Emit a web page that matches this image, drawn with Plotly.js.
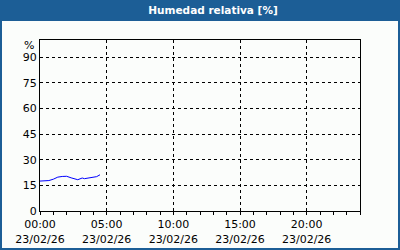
<!DOCTYPE html>
<html><head><meta charset="utf-8">
<script src="https://cdn.plot.ly/plotly-3.0.1.min.js"></script>
<style>html,body{margin:0;padding:0;background:#fff;}#c{width:400px;height:250px;}</style>
</head><body><div id="c"></div>
<script>
const times = ["2026-02-23 00:00","2026-02-23 00:20","2026-02-23 00:40","2026-02-23 01:00","2026-02-23 01:20","2026-02-23 01:40","2026-02-23 02:00","2026-02-23 02:20","2026-02-23 02:40","2026-02-23 02:50","2026-02-23 03:00","2026-02-23 03:10","2026-02-23 03:20","2026-02-23 03:40","2026-02-23 04:00","2026-02-23 04:15","2026-02-23 04:30"];
const humidity = [17.5,17.6,17.8,18.6,19.8,20.2,20.3,19.4,18.8,18.3,18.8,19.3,18.9,19.3,19.8,20.1,21.2];
const yTicks = [0,15,30,45,60,75,90];
const titleText = "Humedad relativa [%]";
const unitLabel = "%";

const W=400,H=250,L=40,R=40,T=40,B=39;
const pw=W-L-R, ph=H-T-B;
const px=v=>(v-L)/pw, py=v=>(H-B-v)/ph;
const border="#1c5e96", inner="#fbfdfb";

const trace={x:times,y:humidity,type:"scatter",mode:"lines",line:{color:"#0000ff",width:1},hoverinfo:"skip"};
const layout={
  width:W,height:H,margin:{l:L,r:R,t:T,b:B},
  paper_bgcolor:border,plot_bgcolor:inner,showlegend:false,
  font:{family:"DejaVu Sans, Verdana, sans-serif",size:11,color:"#000"},
  title:{text:"<b>"+titleText+"</b>",xref:"container",yref:"container",x:213/W,xanchor:"center",y:1-10.5/H,yanchor:"middle",font:{color:"#ffffff",size:10.5,family:"DejaVu Sans, Verdana, sans-serif"}},
  xaxis:{type:"date",range:["2026-02-23 00:00","2026-02-24 00:00"],tick0:"2026-02-23 00:00",dtick:5*3600000,
    tickformat:"%H:%M<br>%d/%m/%y",ticks:"outside",ticklen:3,tickcolor:"#000",
    showgrid:true,gridcolor:"#000",griddash:"3px,3px",gridwidth:1,
    showline:true,linecolor:"#000",linewidth:1,mirror:true,zeroline:false,
    minor:{dtick:3600000,ticks:"outside",ticklen:3,tickcolor:"#000",showgrid:false},
    tickfont:{size:11,family:"DejaVu Sans, Verdana, sans-serif"}},
  yaxis:{range:[0,100],tickvals:yTicks,ticks:"",ticklen:0,
    showgrid:true,gridcolor:"#000",griddash:"3px,3px",gridwidth:1,
    showline:true,linecolor:"#000",linewidth:1,mirror:true,zeroline:false,
    tickfont:{size:11,family:"DejaVu Sans, Verdana, sans-serif"}},
  shapes:[
    {type:"rect",xref:"paper",yref:"paper",layer:"below",x0:px(2),x1:px(398),y0:py(248),y1:py(21),fillcolor:inner,line:{width:0}}
  ],
  annotations:[
    {text:unitLabel,xref:"paper",yref:"paper",x:px(29),y:py(45),xanchor:"center",yanchor:"middle",showarrow:false,font:{size:11,color:"#000"}}
  ]
};
Plotly.newPlot("c",[trace],layout,{staticPlot:true,displayModeBar:false});
</script></body></html>
